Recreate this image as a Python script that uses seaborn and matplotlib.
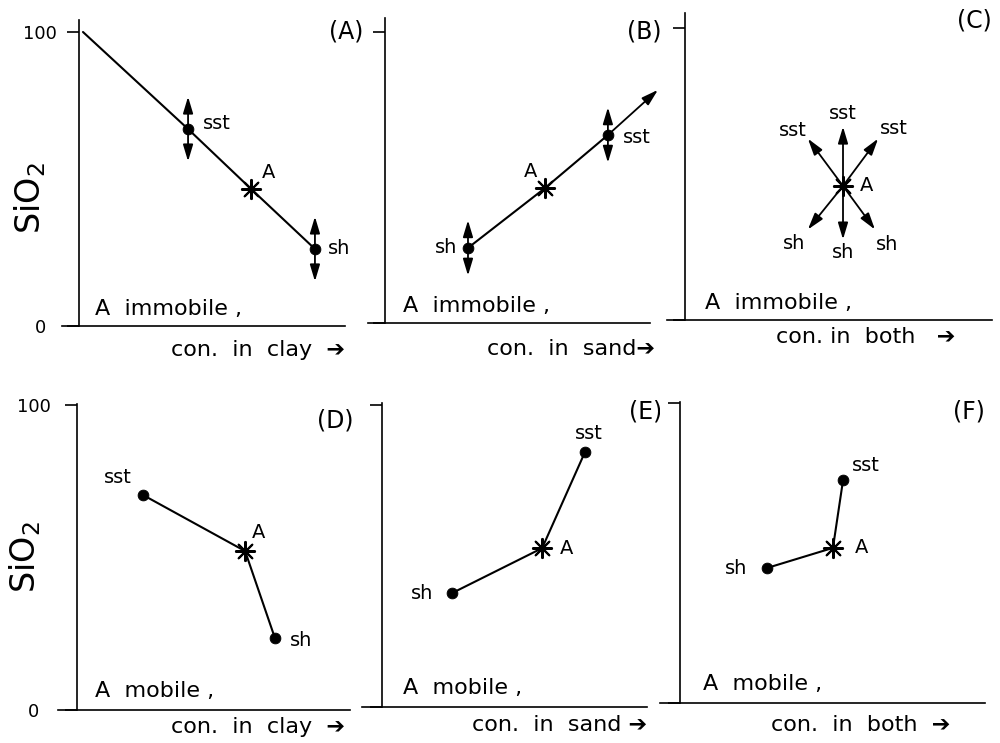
import matplotlib
matplotlib.use("Agg")
import matplotlib.pyplot as plt
import seaborn as sns

# --- data (x: concentration in a relative unit, y: SiO2 0-100) ---
# point order in every panel: sst, A, sh
point_names = ["sst", "A", "sh"]

# (A) A immobile, concentrated in clay
a_x = [41.0, 64.7, 88.7]
a_y = [67.0, 46.6, 26.2]
a_start = [1.5, 100.0]
a_spread = 11.0

# (B) A immobile, concentrated in sand
b_x = [83.8, 60.2, 31.2]
b_y = [64.6, 46.4, 25.8]
b_tip = [102.6, 80.1]
b_spread = 9.5

# (C) A immobile, concentrated in both
c_center = [59.4, 45.9]
c_sst_x = [46.2, 59.4, 72.6]
c_sst_y = [62.1, 66.2, 62.1]
c_sh_x = [71.4, 59.4, 46.2]
c_sh_y = [31.0, 27.6, 31.0]

# (D) A mobile, concentrated in clay
d_x = [24.8, 63.2, 74.4]
d_y = [70.5, 52.1, 23.6]

# (E) A mobile, concentrated in sand
e_x = [76.3, 60.2, 26.3]
e_y = [84.4, 52.6, 37.7]

# (F) A mobile, concentrated in both
f_x = [61.3, 57.5, 32.7]
f_y = [74.3, 51.7, 45.0]

panel_tags = ["(A)", "(B)", "(C)", "(D)", "(E)", "(F)"]
mobility = ["A  immobile ,", "A  immobile ,", "A  immobile ,",
            "A  mobile ,", "A  mobile ,", "A  mobile ,"]
xlabels = ["con.  in  clay  \u2794", "con.  in  sand\u2794", "con. in  both   \u2794",
           "con.  in  clay  \u2794", "con.  in  sand \u2794", "con.  in  both  \u2794"]
ytick_vals = [0, 100]
ytick_text = ["0", "100"]

# --- layout in pixels: spine x, y of 0, y of 100, left, right, top ---
W, H = 1000, 743
PXU = 2.66  # pixels per x unit
boxes = [
    (79, 326, 32, 62, 345, 20),
    (385, 323, 32, 368, 650, 18),
    (685, 320, 28, 667, 992, 13),
    (77, 710, 405, 58, 350, 404),
    (382, 707, 405, 362, 647, 403),
    (680, 703, 403, 660, 985, 402),
]
tag_pos = [(106.8, 100), (104.1, 100), (115.4, 102.4),
           (103.8, 95), (105.3, 97.7), (114.7, 97)]
mob_pos = [(6.0, 2.5), (6.8, 2.5), (7.5, 2.5), (6.8, 3.0), (7.9, 3.0), (8.6, 3.0)]
xlab_pos = [(1.0, -24), (1.018, -26), (0.886, -17), (0.983, -17), (1.0, -18), (0.892, -22)]

sns.set_style("ticks")
plt.rcParams["font.family"] = ["DejaVu Sans"]
plt.rcParams["text.color"] = "black"
plt.rcParams["axes.labelcolor"] = "black"
plt.rcParams["ytick.color"] = "black"

fig = plt.figure(figsize=(W / 100, H / 100), dpi=100)
axes = []
for i, (sx, y0, y100, lft, rgt, top) in enumerate(boxes):
    ax = fig.add_axes([lft / W, 1 - y0 / H, (rgt - lft) / W, (y0 - top) / H])
    pyu = (y0 - y100) / 100.0
    ax.set_xlim((lft - sx) / PXU, (rgt - sx) / PXU)
    ax.set_ylim(0, (y0 - top) / pyu)
    sns.despine(ax=ax)
    ax.spines["left"].set_position(("data", 0))
    for s in ["left", "bottom"]:
        ax.spines[s].set_linewidth(1.2)
        ax.spines[s].set_color("black")
    ax.set_xticks([])
    ax.set_yticks(ytick_vals)
    ax.tick_params(axis="y", length=9, width=1.2, color="black", labelcolor="black")
    if i in (0, 3):
        pad = 19 if i == 0 else 22
        ax.set_yticklabels(ytick_text, fontsize=13, ha="center")
        ax.tick_params(axis="y", pad=pad)
        ax.set_ylabel("SiO$_2$", fontsize=24)
        ax.yaxis.label.set_va("center")
        ax.yaxis.set_label_coords(-0.113, 0.418 if i == 0 else 0.5)
    else:
        ax.set_yticklabels([])
    ax.text(*tag_pos[i], panel_tags[i], fontsize=17, ha="right", va="center")
    ax.text(*mob_pos[i], mobility[i], fontsize=16, ha="left", va="bottom")
    ax.set_xlabel(xlabels[i], fontsize=16, loc="right")
    ax.xaxis.label.set_va("center")
    ax.xaxis.set_label_coords(xlab_pos[i][0], xlab_pos[i][1] / (y0 - top))
    axes.append(ax)

LW = 1.5
ARW = dict(color="black", lw=1.3, shrinkA=0, shrinkB=0)


def arrow(ax, tail, tip, style="-|>"):
    ax.annotate("", xy=tip, xytext=tail,
                arrowprops=dict(arrowstyle=style + ",head_length=1.0,head_width=0.3", **ARW),
                annotation_clip=False)


def star(ax, x, y):
    sns.scatterplot(x=[x], y=[y], marker=(8, 2, 0), s=190, color="black",
                    linewidth=1.5, ax=ax, zorder=5, clip_on=False)


def dots(ax, xs, ys):
    sns.scatterplot(x=xs, y=ys, s=60, color="black", edgecolor="black",
                    ax=ax, zorder=4, clip_on=False)


def label(ax, xy, text, off, ha):
    ax.annotate(text, xy=xy, xytext=(off[0] / 1.389, off[1] / 1.389),
                textcoords="offset points", fontsize=14, ha=ha, va="center",
                annotation_clip=False)


# (A)
ax = axes[0]
sns.lineplot(x=[a_start[0], a_x[0], a_x[1], a_x[2]], y=[a_start[1], a_y[0], a_y[1], a_y[2]],
             sort=False, estimator=None, color="black", lw=LW, ax=ax)
dots(ax, [a_x[0], a_x[2]], [a_y[0], a_y[2]])
star(ax, a_x[1], a_y[1])
for j in (0, 2):
    arrow(ax, (a_x[j], a_y[j] - a_spread), (a_x[j], a_y[j] + a_spread), "<|-|>")
label(ax, (a_x[0], a_y[0]), point_names[0], (15, 6), "left")
label(ax, (a_x[1], a_y[1]), point_names[1], (11, 16), "left")
label(ax, (a_x[2], a_y[2]), point_names[2], (13, 0), "left")

# (B)
ax = axes[1]
sns.lineplot(x=b_x[::-1], y=b_y[::-1], sort=False, estimator=None, color="black", lw=LW, ax=ax)
arrow(ax, (b_x[0], b_y[0]), tuple(b_tip))
dots(ax, [b_x[0], b_x[2]], [b_y[0], b_y[2]])
star(ax, b_x[1], b_y[1])
for j in (0, 2):
    arrow(ax, (b_x[j], b_y[j] - b_spread), (b_x[j], b_y[j] + b_spread), "<|-|>")
label(ax, (b_x[0], b_y[0]), point_names[0], (15, -2), "left")
label(ax, (b_x[1], b_y[1]), point_names[1], (-8, 16), "right")
label(ax, (b_x[2], b_y[2]), point_names[2], (-11, 0), "right")

# (C)
ax = axes[2]
sst_off = [(-15, 8), (0, 13), (16, 10)]
sh_off = [(12, -15), (0, -13), (-14, -14)]
for j in range(3):
    arrow(ax, tuple(c_center), (c_sst_x[j], c_sst_y[j]))
    arrow(ax, tuple(c_center), (c_sh_x[j], c_sh_y[j]))
    label(ax, (c_sst_x[j], c_sst_y[j]), "sst", sst_off[j], "center")
    label(ax, (c_sh_x[j], c_sh_y[j]), "sh", sh_off[j], "center")
star(ax, c_center[0], c_center[1])
label(ax, tuple(c_center), "A", (17, 0), "left")

# (D), (E), (F)
mobile = [(axes[3], d_x, d_y, [(-11, 17), (13, 19), (15, -2)], ["right", "center", "left"]),
          (axes[4], e_x, e_y, [(4, 19), (18, 0), (-19, 0)], ["center", "left", "right"]),
          (axes[5], f_x, f_y, [(9, 15), (22, 0), (-20, 0)], ["left", "left", "right"])]
for ax, xs, ys, offs, has in mobile:
    sns.lineplot(x=xs, y=ys, sort=False, estimator=None, color="black", lw=LW, ax=ax)
    dots(ax, [xs[0], xs[2]], [ys[0], ys[2]])
    star(ax, xs[1], ys[1])
    for j in range(3):
        label(ax, (xs[j], ys[j]), point_names[j], offs[j], has[j])

fig.savefig("out.png", dpi=100, facecolor="white")
